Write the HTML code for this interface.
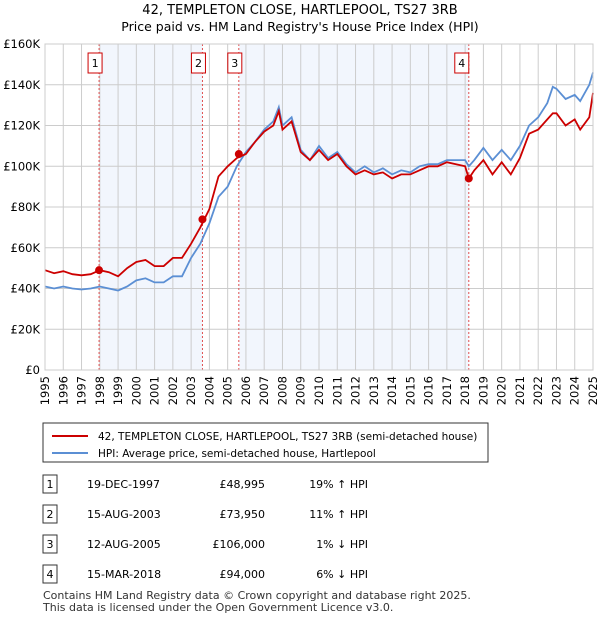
<!DOCTYPE html>
<html><head><meta charset="utf-8"><style>
body{margin:0;background:#fff;font-family:"Liberation Sans","DejaVu Sans",sans-serif;}
svg text{font-family:"DejaVu Sans","Liberation Sans",sans-serif;}
</style></head><body>
<svg id="c" width="600" height="620" xmlns="http://www.w3.org/2000/svg">
<text x="300" y="14" text-anchor="middle" font-size="13">42, TEMPLETON CLOSE, HARTLEPOOL, TS27 3RB</text>
<text x="300" y="31" text-anchor="middle" font-size="12.5">Price paid vs. HM Land Registry's House Price Index (HPI)</text>
<g id="plot"></g>
<g>
<rect x="43" y="423" width="445" height="39" fill="#fff" stroke="#333"/>
<line x1="52" y1="436" x2="88" y2="436" stroke="#cc0000" stroke-width="2"/>
<text x="98" y="440" font-size="10.5">42, TEMPLETON CLOSE, HARTLEPOOL, TS27 3RB (semi-detached house)</text>
<line x1="52" y1="453" x2="88" y2="453" stroke="#5b8fd4" stroke-width="2"/>
<text x="98" y="457" font-size="10.5">HPI: Average price, semi-detached house, Hartlepool</text>
</g>
<g id="table" font-size="11"></g>
<text x="43" y="599" font-size="11" fill="#333">Contains HM Land Registry data © Crown copyright and database right 2025.</text>
<text x="43" y="611" font-size="11" fill="#333">This data is licensed under the Open Government Licence v3.0.</text>
</svg>
<script>
const years=[1995,1995.5,1996,1996.5,1997,1997.5,1998,1998.5,1999,1999.5,2000,2000.5,2001,2001.5,2002,2002.5,2003,2003.5,2004,2004.5,2005,2005.5,2006,2006.5,2007,2007.5,2007.8,2008,2008.5,2009,2009.5,2010,2010.5,2011,2011.5,2012,2012.5,2013,2013.5,2014,2014.5,2015,2015.5,2016,2016.5,2017,2017.5,2018,2018.2,2018.5,2019,2019.5,2020,2020.5,2021,2021.5,2022,2022.5,2022.8,2023,2023.5,2024,2024.3,2024.8,2025];
const hpiValues=[41,40,41,40,39.5,40,41,40,39,41,44,45,43,43,46,46,55,62,72,85,90,100,107,112,118,122,129,120,124,108,103,110,104,107,101,97,100,97,99,96,98,97,100,101,101,103,103,103,100,103,109,103,108,103,110,120,124,131,139,138,133,135,132,140,146];
const priceValues=[49,47.5,48.5,47,46.5,47,49,48,46,50,53,54,51,51,55,55,62,70,79,95,100,104,106,112,117,120,127,118,122,107,103,108,103,106,100,96,98,96,97,94,96,96,98,100,100,102,101,100,94,98,103,96,102,96,104,116,118,123,126,126,120,123,118,124,136];
const saleDates=[1997.96,2003.62,2005.61,2018.2];
const salePrices=[48995,73950,106000,94000];
const saleLabels=["1","2","3","4"];
const yTicks=[0,20,40,60,80,100,120,140,160];
const yTickLabels=["£0","£20K","£40K","£60K","£80K","£100K","£120K","£140K","£160K"];
const tableDates=["19-DEC-1997","15-AUG-2003","12-AUG-2005","15-MAR-2018"];
const tablePrices=["£48,995","£73,950","£106,000","£94,000"];
const tableHpi=["19% ↑ HPI","11% ↑ HPI","1% ↓ HPI","6% ↓ HPI"];
const NS="http://www.w3.org/2000/svg";
const X0=45,X1=593,Y0=370,Y1=44;
const xs=y=>X0+(y-1995)/30*(X1-X0);
const ys=v=>Y0-v/160*(Y0-Y1);
const g=document.getElementById('plot');
function mk(t,a,p){const e=document.createElementNS(NS,t);for(const k in a)e.setAttribute(k,a[k]);(p||g).appendChild(e);return e;}
let bg=mk('rect',{x:X0,y:Y1,width:X1-X0,height:Y0-Y1,fill:'#fff'});


[[0,1],[2,3]].forEach(([a,b])=>{const r=mk('rect',{x:xs(saleDates[a]),y:Y1,width:xs(saleDates[b])-xs(saleDates[a]),height:Y0-Y1,fill:'#eef3fc',opacity:0.75});

});
for(let y=1995;y<=2025;y++){const l=mk('line',{x1:xs(y),x2:xs(y),y1:Y1,y2:Y0,stroke:'#ccc','stroke-width':1});


const t=mk('text',{x:0,y:0,'font-size':11.5,'text-anchor':'end',transform:`translate(${xs(y)+4},${Y0+6}) rotate(-90)`});t.textContent=y;

}
yTicks.forEach((v,i)=>{const l=mk('line',{x1:X0,x2:X1,y1:ys(v),y2:ys(v),stroke:'#ccc','stroke-width':1});


const t=mk('text',{x:X0-5,y:ys(v)+4,'font-size':11.5,'text-anchor':'end'});t.textContent=yTickLabels[i];

});
saleDates.forEach((d,i)=>{const l=mk('line',{x1:xs(d),x2:xs(d),y1:Y1,y2:Y0,stroke:'#e05050','stroke-width':1,'stroke-dasharray':'2,2'});


const bx=xs(d)-9-(i==3?3:0);
const r=mk('rect',{x:bx-2,y:53,width:14,height:20,fill:'#fff',stroke:'#c00'});


const t=mk('text',{x:bx+5,y:67,'font-size':11,'text-anchor':'middle'});t.textContent=saleLabels[i];

});
function path(vals,col,name){const d=vals.map((v,i)=>(i?'L':'M')+xs(years[i]).toFixed(1)+','+ys(v).toFixed(1)).join('');
const p=mk('path',{d:d,fill:'none',stroke:col,'stroke-width':1.8});

}
path(hpiValues,'#5b8fd4','hpi-line');
path(priceValues,'#cc0000','price-line');
saleDates.forEach((d,i)=>{const c=mk('circle',{cx:xs(d),cy:ys(salePrices[i]/1000),r:4,fill:'#cc0000'});

});
const ax=mk('rect',{x:X0,y:Y1,width:X1-X0,height:Y0-Y1,fill:'none',stroke:'#ccc'});
const tb=document.getElementById('table');
saleLabels.forEach((s,i)=>{const y=485+i*30;
const r=mk('rect',{x:43,y:y-10,width:14,height:18,fill:'#fff',stroke:'#333'},tb);


const vals=[[50,s,'middle'],[87,tableDates[i],'start'],[265,tablePrices[i],'end'],[368,tableHpi[i],'end']];
vals.forEach(([x,txt,a])=>{const t=mk('text',{x:x,y:y+3,'text-anchor':a},tb);t.textContent=txt;

});});
</script>
</body></html>
